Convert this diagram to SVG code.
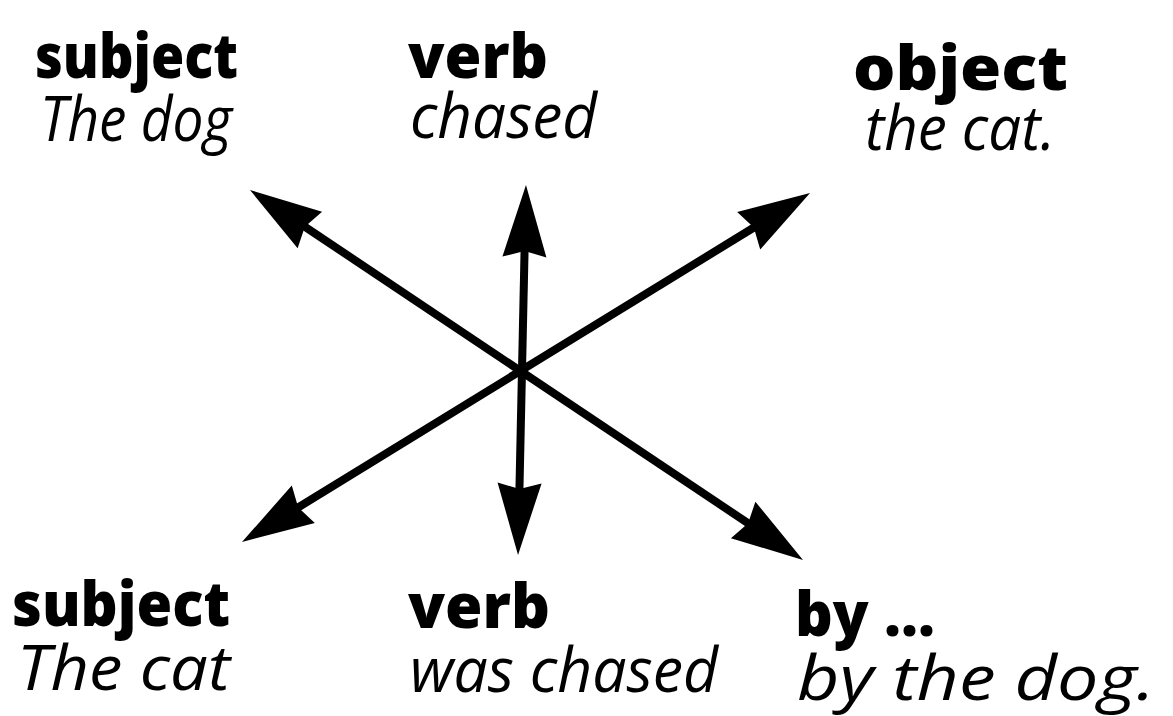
<svg xmlns="http://www.w3.org/2000/svg" width="1173" height="716" viewBox="0 0 1173 716">
<style>
.b{font-family:"Open Sans","Liberation Sans",sans-serif;font-weight:800;font-size:62px;fill:#000}
.i{font-family:"Open Sans","Liberation Sans",sans-serif;font-style:italic;font-weight:400;font-size:62px;fill:#000}
.ln{stroke:#000;stroke-width:8;fill:none;marker-start:url(#ah);marker-end:url(#ah)}
</style>
<defs>
<marker id="ah" markerUnits="userSpaceOnUse" markerWidth="80" markerHeight="50" refX="8" refY="25" orient="auto-start-reverse" overflow="visible">
<path d="M0,3 L72,25 L0,47 L6,25 Z" fill="#000"/>
</marker>
</defs>
<rect width="1173" height="716" fill="#fff"/>
<g id="connectors">
<line class="ln" x1="303.2" y1="225.6" x2="749.8" y2="524.4"/>
<line class="ln" x1="755.5" y1="226.5" x2="296.5" y2="508.5"/>
<line class="ln" x1="524.6" y1="249" x2="519.4" y2="491"/>
</g>
<g id="active-subject">
<text class="b" x="35" y="78" textLength="203" lengthAdjust="spacingAndGlyphs">subject</text>
<text class="i" x="40" y="141" textLength="192" lengthAdjust="spacingAndGlyphs">The dog</text>
</g>
<g id="active-verb">
<text class="b" x="408" y="78" textLength="140" lengthAdjust="spacingAndGlyphs">verb</text>
<text class="i" x="410" y="138" textLength="187" lengthAdjust="spacingAndGlyphs">chased</text>
</g>
<g id="active-object">
<text class="b" x="853" y="90" textLength="215" lengthAdjust="spacingAndGlyphs">object</text>
<text class="i" x="865" y="150" textLength="190" lengthAdjust="spacingAndGlyphs">the cat.</text>
</g>
<g id="passive-subject">
<text class="b" x="12" y="626" textLength="218" lengthAdjust="spacingAndGlyphs">subject</text>
<text class="i" x="17" y="690" textLength="213" lengthAdjust="spacingAndGlyphs">The cat</text>
</g>
<g id="passive-verb">
<text class="b" x="408" y="628" textLength="142" lengthAdjust="spacingAndGlyphs">verb</text>
<text class="i" x="410" y="692" textLength="308" lengthAdjust="spacingAndGlyphs">was chased</text>
</g>
<g id="passive-by">
<text class="b" x="795" y="636" textLength="140" lengthAdjust="spacingAndGlyphs">by ...</text>
<text class="i" x="797" y="700" textLength="358" lengthAdjust="spacingAndGlyphs">by the dog.</text>
</g>
</svg>
